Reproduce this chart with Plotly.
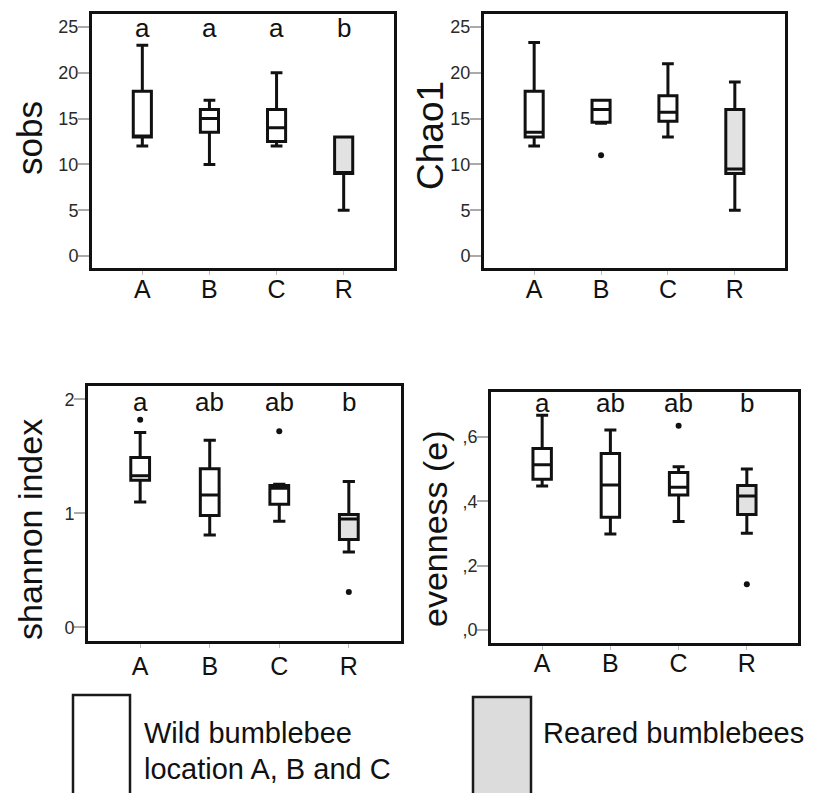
import plotly.graph_objects as go

W, H = 815, 793
FONT = "Liberation Sans, Arial, sans-serif"

categories = ["A", "B", "C", "R"]
wild_cats = ["A", "B", "C"]
reared_cats = ["R"]

# sobs
sobs_lower = [12, 10, 12, 5]
sobs_q1 = [13, 13.5, 12.5, 9]
sobs_median = [13, 15, 14, 9.1]
sobs_q3 = [18, 16, 16, 13]
sobs_upper = [23, 17, 20, 13]
sobs_out_x = []
sobs_out_y = []
sobs_letters = ["a", "a", "a", "b"]

# Chao1
chao_lower = [12, 14.5, 13, 5]
chao_q1 = [13, 14.6, 14.7, 9]
chao_median = [13.5, 16, 15.7, 9.5]
chao_q3 = [18, 17, 17.5, 16]
chao_upper = [23.3, 17, 21, 19]
chao_out_x = ["B"]
chao_out_y = [11]
chao_letters = []

# shannon index
shan_lower = [1.10, 0.81, 0.93, 0.66]
shan_q1 = [1.29, 0.98, 1.08, 0.77]
shan_median = [1.33, 1.16, 1.22, 0.95]
shan_q3 = [1.49, 1.39, 1.245, 0.99]
shan_upper = [1.71, 1.64, 1.255, 1.28]
shan_out_x = ["A", "C", "R"]
shan_out_y = [1.82, 1.72, 0.31]
shan_letters = ["a", "ab", "ab", "b"]

# evenness
even_lower = [0.447, 0.298, 0.337, 0.301]
even_q1 = [0.468, 0.35, 0.419, 0.359]
even_median = [0.513, 0.45, 0.443, 0.416]
even_q3 = [0.564, 0.548, 0.489, 0.449]
even_upper = [0.667, 0.621, 0.507, 0.5]
even_out_x = ["C", "R"]
even_out_y = [0.634, 0.142]
even_letters = ["a", "ab", "ab", "b"]

legend_labels = ["Wild bumblebee", "location A, B and C", "Reared bumblebees"]

def px_x(p):
    return p / W

def px_y(p):
    return 1 - p / H

panels = [
    dict(title="sobs", lower=sobs_lower, q1=sobs_q1, med=sobs_median, q3=sobs_q3, up=sobs_upper,
         ox=sobs_out_x, oy=sobs_out_y, letters=sobs_letters, letter_y=24.9,
         xdom=(92, 394), ydom=(14, 268), yrange=[-1.31, 26.42],
         tickvals=[0, 5, 10, 15, 20, 25], ticktext=["0", "5", "10", "15", "20", "25"],
         title_pos=(29, 138), title_size=35, xstand=-7),
    dict(title="Chao1", lower=chao_lower, q1=chao_q1, med=chao_median, q3=chao_q3, up=chao_upper,
         ox=chao_out_x, oy=chao_out_y, letters=chao_letters, letter_y=24.9,
         xdom=(484, 785), ydom=(14, 268), yrange=[-1.31, 26.42],
         tickvals=[0, 5, 10, 15, 20, 25], ticktext=["0", "5", "10", "15", "20", "25"],
         title_pos=(430, 135), title_size=37, xstand=-7),
    dict(title="shannon index", lower=shan_lower, q1=shan_q1, med=shan_median, q3=shan_q3, up=shan_upper,
         ox=shan_out_x, oy=shan_out_y, letters=shan_letters, letter_y=1.975,
         xdom=(88, 401), ydom=(386, 641), yrange=[-0.12, 2.117],
         tickvals=[0, 1, 2], ticktext=["0", "1", "2"],
         title_pos=(30, 530), title_size=34, xstand=-3),
    dict(title="evenness (e)", lower=even_lower, q1=even_q1, med=even_median, q3=even_q3, up=even_upper,
         ox=even_out_x, oy=even_out_y, letters=even_letters, letter_y=0.705,
         xdom=(491, 798), ydom=(392, 643), yrange=[-0.04, 0.739],
         tickvals=[0, 0.2, 0.4, 0.6], ticktext=[",0", ",2", ",4", ",6"],
         title_pos=(435, 529), title_size=34, xstand=-8),
]

fig = go.Figure()
annotations = []
LINE = "#111111"

for i, p in enumerate(panels):
    n = "" if i == 0 else str(i + 1)
    xa, ya = "x" + n, "y" + n
    nw = len(wild_cats)
    fig.add_trace(go.Box(
        x=wild_cats, q1=p["q1"][:nw], median=p["med"][:nw], q3=p["q3"][:nw],
        lowerfence=p["lower"][:nw], upperfence=p["up"][:nw],
        fillcolor="white", line=dict(color=LINE, width=3), width=0.27, whiskerwidth=0.65,
        boxpoints=False, showlegend=False, xaxis=xa, yaxis=ya, hoverinfo="skip"))
    fig.add_trace(go.Box(
        x=reared_cats, q1=p["q1"][nw:], median=p["med"][nw:], q3=p["q3"][nw:],
        lowerfence=p["lower"][nw:], upperfence=p["up"][nw:],
        fillcolor="#e2e2e2", line=dict(color=LINE, width=3), width=0.27, whiskerwidth=0.65,
        boxpoints=False, showlegend=False, xaxis=xa, yaxis=ya, hoverinfo="skip"))
    if p["ox"]:
        fig.add_trace(go.Scatter(
            x=p["ox"], y=p["oy"], mode="markers",
            marker=dict(color="#111111", size=6), showlegend=False,
            xaxis=xa, yaxis=ya, hoverinfo="skip"))
    for c, t in zip(categories, p["letters"]):
        annotations.append(dict(x=c, y=p["letter_y"], xref=xa, yref=ya, text=t,
                                showarrow=False, font=dict(family=FONT, size=26, color="#111111"),
                                xanchor="center", yanchor="middle"))
    tx, ty = p["title_pos"]
    annotations.append(dict(x=px_x(tx), y=px_y(ty), xref="paper", yref="paper", text=p["title"],
                            textangle=-90, showarrow=False,
                            font=dict(family=FONT, size=p["title_size"], color="#111111"),
                            xanchor="center", yanchor="middle"))
    x0, x1 = p["xdom"]
    y0, y1 = p["ydom"]
    fig.layout["xaxis" + n] = dict(
        domain=[px_x(x0), px_x(x1)], anchor=ya, type="category",
        categoryorder="array", categoryarray=categories, range=[-0.75, 3.75],
        showline=True, mirror=True, linecolor="#111111", linewidth=3,
        ticks="outside", ticklen=4, tickcolor="#bbbbbb", tickwidth=1,
        ticklabelstandoff=p["xstand"],
        tickfont=dict(family=FONT, size=25, color="#111111"),
        showgrid=False, zeroline=False, fixedrange=True)
    fig.layout["yaxis" + n] = dict(
        domain=[px_y(y1), px_y(y0)], anchor=xa, range=p["yrange"],
        tickvals=p["tickvals"], ticktext=p["ticktext"],
        showline=True, mirror=True, linecolor="#111111", linewidth=3,
        ticks="outside", ticklen=11, tickcolor="#aaaaaa", tickwidth=1.5,
        ticklabelstandoff=-4,
        tickfont=dict(family=FONT, size=18, color="#2a2a2a"),
        showgrid=False, zeroline=False, fixedrange=True)

# legend boxes
shapes = [
    dict(type="rect", xref="paper", yref="paper", x0=px_x(73), x1=px_x(130), y0=px_y(800), y1=px_y(695),
         line=dict(color="#1a1a1a", width=2.5), fillcolor="white"),
    dict(type="rect", xref="paper", yref="paper", x0=px_x(473), x1=px_x(531), y0=px_y(800), y1=px_y(697),
         line=dict(color="#1a1a1a", width=2.5), fillcolor="#dcdcdc"),
]
for txt, (lx, ly) in zip(legend_labels, [(142, 733), (142, 769), (541, 733)]):
    annotations.append(dict(x=px_x(lx), y=px_y(ly), xref="paper", yref="paper", text=txt,
                            showarrow=False, font=dict(family=FONT, size=29, color="#111111"),
                            xanchor="left", yanchor="middle"))

fig.update_layout(
    width=W, height=H, margin=dict(l=0, r=0, t=0, b=0),
    paper_bgcolor="white", plot_bgcolor="white",
    annotations=annotations, shapes=shapes, boxmode="overlay",
)

fig.write_html("out.html")
